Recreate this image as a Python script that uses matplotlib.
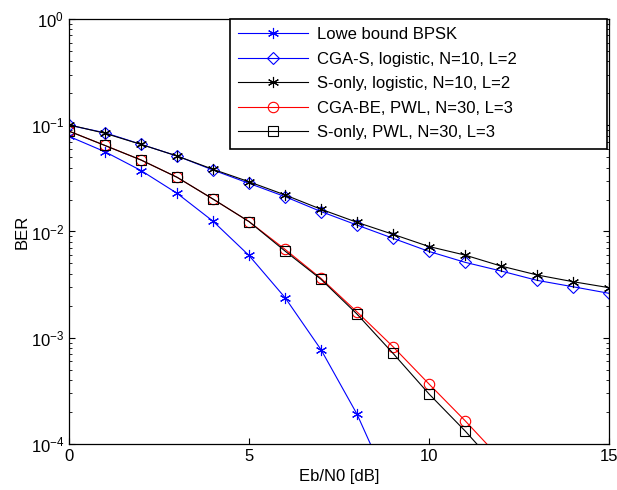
import numpy as np
import matplotlib.pyplot as plt
from matplotlib.ticker import LogLocator, NullFormatter

plt.rcParams['font.family'] = ['Liberation Sans', 'DejaVu Sans']
plt.rcParams['mathtext.fontset'] = 'custom'
plt.rcParams['mathtext.rm'] = 'Liberation Sans'

# Eb/N0 in dB
snr = list(range(0, 16))
snr_bpsk = list(range(0, 10))

# Lower bound BPSK
ber_bpsk = [0.0786, 0.0563, 0.0375, 0.0229, 0.0125, 0.00595, 0.00239,
            7.73e-4, 1.91e-4, 3.36e-5]

# CGA-S, logistic, N=10, L=2
ber_cgas = [0.100, 0.085, 0.0662, 0.0514, 0.0379, 0.0284, 0.0213, 0.0154,
            0.0115, 0.00863, 0.00649, 0.00513, 0.00425, 0.00347, 0.00302, 0.00262]

# S-only, logistic, N=10, L=2
ber_slog = [0.101, 0.084, 0.066, 0.0514, 0.0385, 0.0294, 0.0221, 0.0162,
            0.0122, 0.00941, 0.00722, 0.0060, 0.00473, 0.00390, 0.00337, 0.00296]

# CGA-BE, PWL, N=30, L=3
snr_pwl = list(range(0, 13))
ber_cgabe = [0.088, 0.0645, 0.0471, 0.0324, 0.0202, 0.0124, 0.0068, 0.00362,
             0.00175, 8.24e-4, 3.67e-4, 1.66e-4, 7.2e-5]

# S-only, PWL, N=30, L=3
ber_spwl = [0.088, 0.0645, 0.0471, 0.0324, 0.0202, 0.0124, 0.00655, 0.00355,
            0.00167, 7.14e-4, 2.96e-4, 1.33e-4, 5.6e-5]

fig = plt.figure(figsize=(6.17, 4.90), dpi=100)
ax = fig.add_axes([69/617, 1 - 444/490, 540/617, 425/490])

lw = 0.8
star = (6, 2, 0)
ax.plot(snr_bpsk, ber_bpsk, color='blue', marker=star, ms=8, mew=0.8, lw=lw,
        label='Lowe bound BPSK')
ax.plot(snr, ber_cgas, color='blue', marker='D', ms=6.5, mfc='none', mew=0.8, lw=lw,
        label='CGA-S, logistic, N=10, L=2')
ax.plot(snr, ber_slog, color='black', marker=star, ms=8, mew=0.8, lw=lw,
        label='S-only, logistic, N=10, L=2')
ax.plot(snr_pwl, ber_cgabe, color='red', marker='o', ms=7.5, mfc='none', mew=0.8, lw=lw,
        label='CGA-BE, PWL, N=30, L=3')
ax.plot(snr_pwl, ber_spwl, color='black', marker='s', ms=7.5, mfc='none', mew=0.8, lw=lw,
        label='S-only, PWL, N=30, L=3')

ax.set_yscale('log')
ax.set_xlim(0, 15)
ax.set_ylim(1e-4, 1)
ax.set_xticks([0, 5, 10, 15])
ax.yaxis.set_major_locator(LogLocator(base=10, numticks=10))
ax.yaxis.set_minor_locator(LogLocator(base=10, subs=np.arange(2, 10), numticks=20))
ax.yaxis.set_minor_formatter(NullFormatter())
ax.tick_params(which='both', direction='in', top=True, right=True, labelsize=12)
ax.tick_params(which='major', length=4, width=0.8)
ax.tick_params(which='minor', length=2, width=0.6)
for s in ax.spines.values():
    s.set_linewidth(0.9)

ax.set_xlabel('Eb/N0 [dB]', fontsize=12)
ax.set_ylabel('BER', fontsize=12, labelpad=1)

leg = ax.legend(loc='upper left', bbox_to_anchor=(0.298, 0.698, 0.6976, 0.302),
                mode='expand', borderaxespad=0, fontsize=12, handlelength=4.2,
                handletextpad=0.55, labelspacing=0.57, borderpad=0.5,
                fancybox=False, framealpha=1, edgecolor='black')
leg.get_frame().set_linewidth(1.2)

fig.savefig('out.png', dpi=100)
